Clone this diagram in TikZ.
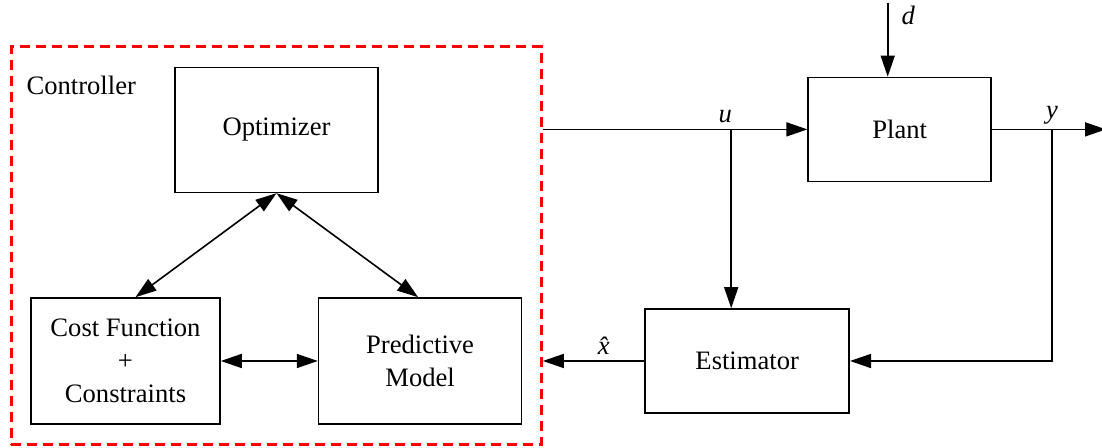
\documentclass[tikz,border=0pt]{standalone}
\usepackage{fontspec}
\setmainfont{Liberation Serif}
\usetikzlibrary{positioning,arrows.meta,fit,calc}

\begin{document}
\begin{tikzpicture}[>={Triangle[length=10.5pt,width=7pt]},line width=0.8pt,
   font=\rmfamily\fontsize{13.3}{16.5}\selectfont,
   block/.style={draw,align=center,minimum width=101.5pt,minimum height=63pt},
   ctrlbox/.style={draw=red,dashed,dash pattern=on 5pt off 3pt,line width=1.4pt},
   lbl/.style={inner sep=1pt,font=\rmfamily\fontsize{13.3}{16.5}\selectfont\itshape}]
  \useasboundingbox (0,0) rectangle (551pt,224pt);
  \node[block,minimum width=94.5pt] (cost) at (62.75pt,43.5pt) {Cost Function\\+\\Constraints};
  \node[block] (pred) [right=48.5pt of cost] {Predictive\\Model};
  \node[block,minimum height=62.5pt] (opt) [above=52pt of cost.north,xshift=75.5pt] {Optimizer};
  \node[block,minimum width=102pt,minimum height=52pt] (est) [right=61pt of pred] {Estimator};
  \node[block,minimum width=91.5pt,minimum height=52pt] (plant) [above=63pt of est.north,xshift=76.25pt] {Plant};
  \node[ctrlbox,fit=(opt)(cost)(pred),inner xsep=9.5pt,inner ysep=10pt] (ctrl) {};
  \node[anchor=north west,inner sep=0pt] at ([xshift=8pt,yshift=-15pt]ctrl.north west) {Controller};

  \coordinate (ub) at ([xshift=-8pt]est.north |- plant.west);
  \coordinate (yb) at ([xshift=30pt]plant.east);
  \coordinate (yout) at ([xshift=57pt]plant.east);
  \coordinate (dtop) at ([xshift=-6pt,yshift=37pt]plant.north);

  \draw[<->] (opt.south) -- ([xshift=5pt]cost.north);
  \draw[<->] (opt.south) -- ([xshift=-1pt]pred.north);
  \draw[<->] (cost.east) -- (pred.west);
  \draw[->] (ctrl.east |- plant.west) -- (plant.west);
  \draw[->] (ub) -- ([xshift=-8pt]est.north);
  \draw[->] (plant.east) -- (yout);
  \draw[->] (yb) |- (est.east);
  \draw[->] (dtop) -- ([xshift=-6pt]plant.north);
  \draw[->] (est.west) -- (ctrl.east |- est.west)
    node[lbl,above=2pt,pos=0.4] {\^{x}};
  \node[lbl,above=2pt,xshift=-3pt] at (ub) {u};
  \node[lbl,above=1pt] at (yb) {y};
  \node[lbl,anchor=north west,inner sep=0pt,xshift=6.5pt,yshift=-1.5pt] at (dtop) {d};
\end{tikzpicture}
\end{document}
